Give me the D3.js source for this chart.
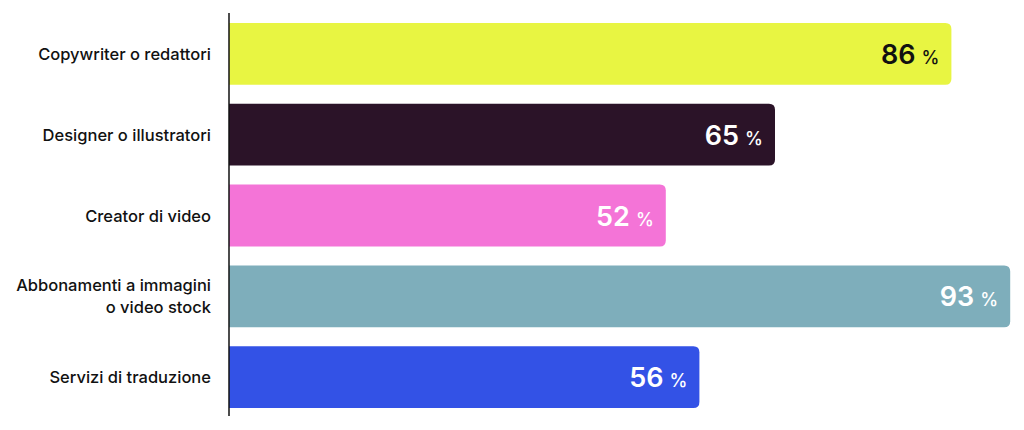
<!DOCTYPE html>
<html><head><meta charset="utf-8">
<script src="https://cdn.jsdelivr.net/npm/d3@7/dist/d3.min.js"></script>
<style>
html,body{margin:0;padding:0;background:#fff;}
svg{display:block;}
text{font-family:Inter,"Open Sans",sans-serif;}
</style></head>
<body>
<script>
const categories = [
  ["Copywriter o redattori"],
  ["Designer o illustratori"],
  ["Creator di video"],
  ["Abbonamenti a immagini", "o video stock"],
  ["Servizi di traduzione"]
];
const values = [86, 65, 52, 93, 56];
const colors = ["#e8f542", "#2b1328", "#f474d7", "#7eaebb", "#3352e6"];
const textColors = ["#111111", "#ffffff", "#ffffff", "#ffffff", "#ffffff"];

const W = 1024, H = 430;
const svg = d3.select("body").append("svg").attr("width", W).attr("height", H);

const x0 = 229;
const x = d3.scaleLinear().domain([0, 100]).range([x0, x0 + 840]);
const y = d3.scaleBand().domain(d3.range(values.length)).range([23, 408]).paddingInner(0.235).paddingOuter(0);

function barPath(xa, xb, ya, h, r) {
  return `M${xa},${ya}H${xb - r}Q${xb},${ya} ${xb},${ya + r}V${ya + h - r}Q${xb},${ya + h} ${xb - r},${ya + h}H${xa}Z`;
}

const g = svg.selectAll("g.bar").data(values).enter().append("g").attr("class", "bar");
g.append("path")
  .attr("d", (d, i) => barPath(x(0), x(d), y(i), y.bandwidth(), 6))
  .attr("fill", (d, i) => colors[i]);

const vt = g.append("text")
  .attr("x", (d) => x(d) - 12)
  .attr("y", (d, i) => y(i) + y.bandwidth() / 2 + 10)
  .attr("text-anchor", "end")
  .attr("fill", (d, i) => textColors[i])
  .attr("font-weight", 600);
vt.append("tspan").attr("font-size", 27).text(d => d);
vt.append("tspan").attr("font-size", 18).attr("font-weight", 500).attr("dx", 6).text("%");

// category labels
const lt = svg.selectAll("text.cat").data(categories).enter().append("text")
  .attr("class", "cat")
  .attr("text-anchor", "end")
  .attr("font-size", 16.5)
  .attr("font-weight", 500)
  .attr("fill", "#111");
lt.each(function(lines, i) {
  const t = d3.select(this);
  const cy = y(i) + y.bandwidth() / 2;
  const lh = 22;
  const start = cy - (lines.length - 1) * lh / 2 + 6;
  lines.forEach((l, k) => {
    t.append("tspan").attr("x", 211).attr("y", start + k * lh).text(l);
  });
});

// axis line
svg.append("line").attr("x1", x0).attr("x2", x0).attr("y1", 13).attr("y2", 416)
  .attr("stroke", "#111").attr("stroke-width", 1.5);
</script>
</body></html>
